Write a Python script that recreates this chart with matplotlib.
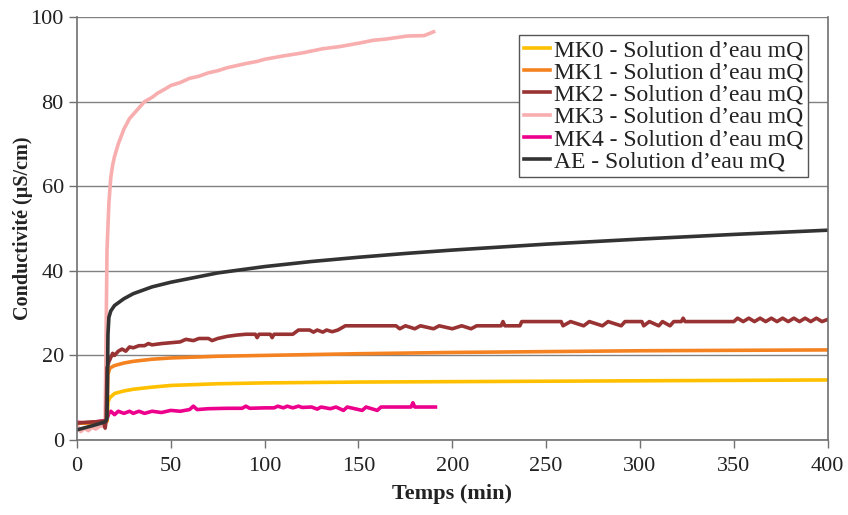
import matplotlib
matplotlib.use("Agg")
import matplotlib.pyplot as plt

plt.rcParams['font.family'] = ['Liberation Serif', 'DejaVu Serif']

# Data (time in min, conductivity in uS/cm)
mk0_t = [0, 5, 10, 15, 16, 16.5, 17.5, 20, 25, 30, 40, 50, 75, 100, 150, 200, 250, 300, 350, 400]
mk0_v = [4, 4, 4.2, 4.3, 4.5, 9, 10, 11, 11.6, 12, 12.5, 12.9, 13.3, 13.5, 13.7, 13.8, 13.9, 14.0, 14.1, 14.2]

mk1_t = [0, 5, 10, 15, 16, 16.5, 17.5, 20, 25, 30, 40, 50, 75, 100, 150, 200, 250, 300, 350, 400]
mk1_v = [4, 4, 4.2, 4.3, 4.5, 15.5, 17, 17.6, 18.2, 18.6, 19.1, 19.4, 19.8, 20.0, 20.4, 20.7, 20.9, 21.1, 21.2, 21.3]

mk2_t = [0, 5, 10, 14, 15, 15.5, 16, 17, 18, 19, 20, 22, 24, 26, 28, 30, 33, 36, 38, 40, 45, 50, 55,
         58, 62, 65, 70, 72, 75, 80, 85, 90, 95, 96, 97, 103, 104, 105, 115, 118, 124, 126, 128, 131,
         133, 136, 139, 143, 170, 172, 175, 180, 183, 190, 193, 200, 205, 210, 213, 226, 227, 228, 236,
         237, 258, 259, 263, 270, 273, 280, 283, 290, 292, 301, 302, 305, 310, 312, 316, 318, 322, 323,
         324, 350, 352, 355, 358, 361, 364, 367, 370, 373, 376, 379, 382, 385, 388, 391, 394, 397, 400]
mk2_v = [4, 4.2, 4.3, 4.5, 2.8, 4.5, 17, 18.5, 19.5, 20.5, 20, 21, 21.5, 21, 22, 21.8, 22.3, 22.3, 22.8,
         22.5, 22.8, 23, 23.2, 23.8, 23.5, 24, 24, 23.5, 24, 24.5, 24.8, 25, 25, 24.2, 25, 25, 24.2, 25,
         25, 26, 26, 25.5, 26, 25.5, 26, 25.6, 26, 27, 27, 26.3, 27, 26.3, 27, 26.3, 27, 26.3, 27, 26.3,
         27, 27, 28, 27, 27, 28, 28, 27, 28, 27, 28, 27, 28, 27, 28, 28, 27, 28, 27, 28, 27, 28, 28, 28.8,
         28, 28, 28.8, 28, 28.8, 28, 28.8, 28, 28.8, 28, 28.8, 28, 28.8, 28, 28.8, 28, 28.8, 28, 28.5]

mk3_t = [0, 2, 4, 6, 8, 10, 12, 14, 15, 15.5, 16, 17, 18, 19, 20, 22, 25, 28, 30, 33, 36, 40, 43, 47,
         50, 55, 60, 65, 70, 75, 80, 90, 96, 100, 110, 120, 131, 140, 150, 158, 165, 176, 185, 190]
mk3_v = [3.5, 2.0, 2.8, 2.2, 3.0, 2.6, 3.2, 3.4, 4, 25, 45, 56, 62, 65, 67, 70, 73.5, 76, 77, 78.5, 80,
         81, 82, 83, 83.8, 84.5, 85.5, 86, 86.8, 87.3, 88, 89, 89.5, 90, 90.8, 91.5, 92.5, 93, 93.8,
         94.5, 94.8, 95.5, 95.6, 96.5]

mk4_t = [0, 5, 10, 14, 15, 16, 17, 18, 20, 22, 25, 28, 30, 33, 36, 40, 45, 50, 55, 60, 62, 64, 70, 80,
         88, 90, 92, 100, 105, 107, 110, 112, 115, 118, 120, 125, 128, 130, 135, 138, 142, 144, 152,
         154, 160, 162, 170, 178, 179, 180, 191]
mk4_v = [4.2, 4, 4.3, 4.5, 4.0, 5, 6.3, 6.8, 6.0, 6.8, 6.3, 6.8, 6.3, 6.8, 6.3, 6.8, 6.5, 7, 6.8, 7.2,
         8, 7.2, 7.4, 7.5, 7.5, 8.0, 7.5, 7.6, 7.6, 8, 7.6, 8, 7.6, 8, 7.7, 7.8, 7.3, 7.8, 7.4, 7.8,
         7.0, 7.8, 7.0, 7.8, 7.0, 7.8, 7.8, 7.8, 8.8, 7.8, 7.8]

ae_t = [0, 5, 10, 15, 16, 16.5, 17, 18, 20, 25, 30, 40, 50, 75, 100, 125, 150, 175, 200, 250, 300, 350, 400]
ae_v = [2.4, 3.0, 3.6, 4.3, 5, 25, 29, 30.5, 31.8, 33.4, 34.6, 36.2, 37.3, 39.5, 41.0, 42.2, 43.2, 44.1,
        44.9, 46.3, 47.5, 48.6, 49.6]

fig = plt.figure(figsize=(8.48, 5.15), dpi=100)
ax = fig.add_axes([0.0908, 0.1456, 0.8852, 0.8214])

lw = 2.6
l3, = ax.plot(mk3_t, mk3_v, color='#F8AEAE', lw=lw, label="MK3 - Solution d\u2019eau mQ")
l4, = ax.plot(mk4_t, mk4_v, color='#EC008C', lw=lw, label="MK4 - Solution d\u2019eau mQ")
l0, = ax.plot(mk0_t, mk0_v, color='#FFC000', lw=lw, label="MK0 - Solution d\u2019eau mQ")
l1, = ax.plot(mk1_t, mk1_v, color='#F58220', lw=lw, label="MK1 - Solution d\u2019eau mQ")
l2, = ax.plot(mk2_t, mk2_v, color='#993333', lw=lw, label="MK2 - Solution d\u2019eau mQ")
la, = ax.plot(ae_t, ae_v, color='#333333', lw=lw, label="AE - Solution d\u2019eau mQ")

ax.set_xlim(0, 400)
ax.set_ylim(0, 100)
ax.set_xticks(range(0, 401, 50))
ax.set_yticks(range(0, 101, 20))
ax.yaxis.grid(True, color='#808080', lw=1)
ax.set_axisbelow(True)

for side in ['left', 'bottom', 'right']:
    ax.spines[side].set_color('#707070')
    ax.spines[side].set_linewidth(1.2)
ax.spines['top'].set_visible(False)

ax.tick_params(axis='both', direction='out', length=6, width=1, color='#707070',
               labelsize=16, labelcolor='#222222')
ax.tick_params(axis='x', pad=6)

ax.set_xlabel("Temps (min)", fontsize=16, fontweight='bold', color='#222222', labelpad=6)
ax.set_ylabel("Conductivit\u00e9 (\u00b5S/cm)", fontsize=14.5, fontweight='bold', color='#222222')
ax.yaxis.set_label_coords(-0.059, 0.5)

leg = ax.legend(handles=[l0, l1, l2, l3, l4, la], loc='upper right',
                bbox_to_anchor=(0.9734, 0.9574), fontsize=17, frameon=True, fancybox=False,
                framealpha=1, edgecolor='#555555', handlelength=1.1, handletextpad=0.15,
                labelspacing=0.03, borderpad=0.2, borderaxespad=0)
leg.get_frame().set_linewidth(1.0)
for t in leg.get_texts():
    t.set_color('#222222')

fig.savefig("out.png", dpi=100)
